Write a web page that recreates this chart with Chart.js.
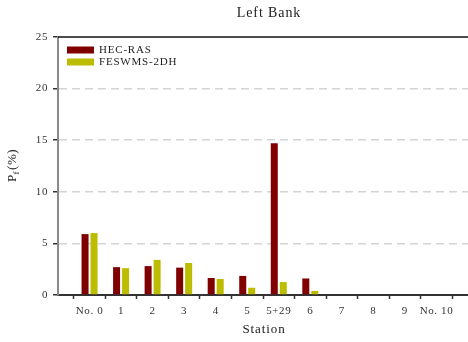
<!DOCTYPE html>
<html>
<head>
<meta charset="utf-8">
<script src="https://cdn.jsdelivr.net/npm/chart.js@4.4.1/dist/chart.umd.min.js"></script>
<style>
  html, body { margin: 0; padding: 0; background: #fff; }
  #wrap { width: 468px; height: 342px; }
</style>
</head>
<body>
<div id="wrap"><canvas id="chart" width="468" height="342"></canvas></div>
<script>
const stations = ['No. 0', '1', '2', '3', '4', '5', '5+29', '6', '7', '8', '9', 'No. 10'];
const hecRas = [5.9, 2.7, 2.8, 2.65, 1.65, 1.85, 14.7, 1.6, 0, 0, 0, 0];
const feswms = [6.0, 2.6, 3.4, 3.1, 1.55, 0.7, 1.25, 0.4, 0, 0, 0, 0];
const yTicks = [0, 5, 10, 15, 20, 25];

const serif = '"Liberation Serif", "DejaVu Serif", serif';

// empty slots either side so the stations sit on the tick marks
const labels = [''].concat(stations, ['']);
const pad = arr => [null].concat(arr, [null]);

const extras = {
    id: 'extras',
    beforeDraw(chart) {
        chart.ctx.letterSpacing = '0.6px';
    },
    afterDraw(chart) {
        const {ctx, chartArea: {left, right, top, bottom}} = chart;
        const y = chart.scales.y;
        ctx.save();
        // top border line at 25
        ctx.strokeStyle = '#111';
        ctx.lineWidth = 1.5;
        ctx.beginPath();
        ctx.moveTo(left, y.getPixelForValue(25));
        ctx.lineTo(right, y.getPixelForValue(25));
        ctx.stroke();

        ctx.fillStyle = '#222';
        ctx.textBaseline = 'middle';
        // title
        ctx.letterSpacing = '0.9px';
        ctx.font = '14px ' + serif;
        ctx.textAlign = 'center';
        ctx.fillText('Left Bank', 269, 13);
        // x title
        ctx.font = '13px ' + serif;
        ctx.fillText('Station', 264, 330);

        // legend
        ctx.letterSpacing = '0.8px';
        ctx.font = '11px ' + serif;
        ctx.textAlign = 'left';
        const items = [['HEC-RAS', '#800000'], ['FESWMS-2DH', '#bcbc00']];
        items.forEach((it, i) => {
            const yy = 50 + i * 12;
            ctx.fillStyle = it[1];
            ctx.fillRect(67, yy - 3.5, 27, 7);
            ctx.fillStyle = '#222';
            ctx.fillText(it[0], 99, yy + 0.5);
        });

        // y title with subscript
        ctx.translate(13, (top + bottom) / 2);
        ctx.rotate(-Math.PI / 2);
        ctx.letterSpacing = '0.5px';
        const big = '13px ' + serif, small = '9px ' + serif;
        ctx.font = big; const wP = ctx.measureText('P').width;
        ctx.font = small; const wf = ctx.measureText('f').width;
        ctx.font = big; const wr = ctx.measureText('(%)').width;
        let x0 = -(wP + wf + wr) / 2;
        ctx.font = big; ctx.fillText('P', x0, 0);
        ctx.font = small; ctx.fillText('f', x0 + wP, 4);
        ctx.font = big; ctx.fillText('(%)', x0 + wP + wf + 1, 0);
        ctx.restore();
    }
};

new Chart(document.getElementById('chart'), {
    type: 'bar',
    data: {
        labels: labels,
        datasets: [
            { label: 'HEC-RAS', data: pad(hecRas), backgroundColor: '#800000' },
            { label: 'FESWMS-2DH', data: pad(feswms), backgroundColor: '#bcbc00' }
        ]
    },
    options: {
        responsive: false,
        animation: false,
        devicePixelRatio: 1,
        layout: { padding: { top: 37, left: 0, right: 0, bottom: 0 } },
        datasets: {
            bar: { categoryPercentage: 0.57, barPercentage: 0.78 }
        },
        plugins: {
            legend: { display: false },
            title: { display: false },
            tooltip: { enabled: false }
        },
        scales: {
            x: {
                offset: false,
                afterFit(scale) {
                    scale.height = 47;
                    scale.paddingRight = 0;
                    scale.paddingLeft = 0;
                },
                grid: {
                    drawOnChartArea: false,
                    drawTicks: true,
                    tickLength: 4,
                    tickColor: '#333',
                    tickWidth: 1.5
                },
                border: { color: '#333', width: 2 },
                ticks: {
                    color: '#333',
                    padding: 6,
                    maxRotation: 0,
                    autoSkip: false,
                    font: { family: serif, size: 11 }
                }
            },
            y: {
                min: 0,
                max: 25,
                afterFit(scale) { scale.width = 58; },
                afterBuildTicks(scale) { scale.ticks = yTicks.map(v => ({ value: v })); },
                grid: {
                    color: ctx => (ctx.tick && (ctx.tick.value === 0 || ctx.tick.value === 25)) ? 'rgba(0,0,0,0)' : '#d4d4d4',
                    lineWidth: 1.5,
                    tickColor: '#333',
                    tickLength: 5,
                    tickBorderDash: [],
                    tickWidth: 1.5
                },
                border: { color: '#8a8a8a', width: 2, dash: [8, 5] },
                ticks: {
                    color: '#333',
                    padding: 5,
                    font: { family: serif, size: 11 }
                }
            }
        }
    },
    plugins: [extras]
});
</script>
</body>
</html>
